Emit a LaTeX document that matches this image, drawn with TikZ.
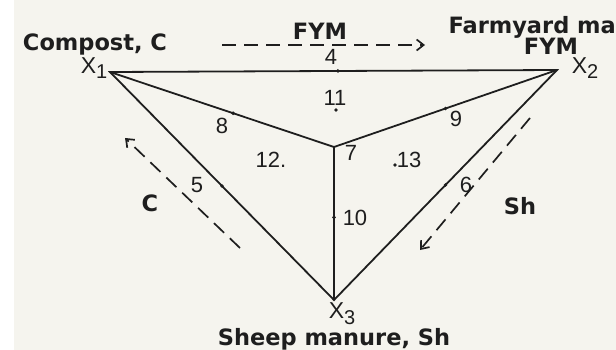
\documentclass[tikz,border=0pt]{standalone}
\usepackage{fontspec}
\setmainfont{Liberation Sans}
\newfontfamily\labfont{DejaVu Sans}
\usepackage{tikz}
\usetikzlibrary{arrows.meta,calc}
\definecolor{paper}{RGB}{245,244,238}
\definecolor{ink}{RGB}{30,30,30}
\newcommand{\vx}[1]{X\raisebox{-0.25em}{\fontsize{20}{20}\selectfont #1}}

\begin{document}
\begin{tikzpicture}[x=1pt, y=-1pt,
  edge/.style={draw=ink, line width=1.8pt},
  tick/.style={circle, fill=ink, inner sep=1.4pt},
  num/.style={font=\fontsize{22}{22}\selectfont, text=ink, inner sep=0.5pt},
  vert/.style={font=\fontsize{23}{23}\selectfont, text=ink, inner sep=0pt},
  lab/.style={font=\labfont\bfseries\fontsize{22.5}{22.5}\selectfont, text=ink, inner sep=0pt},
  flow/.style={draw=ink, line width=1.7pt, dash pattern=on 14pt off 8pt,
               -{Straight Barb[length=7pt, width=11pt]}}]
  \useasboundingbox (0,0) rectangle (616,350);
  \fill[paper] (0,0) rectangle (616,350);
  \fill[white] (0,0) rectangle (14,350);
  % vertices of the mixture triangle
  \coordinate (x1) at (110,72);
  \coordinate (x2) at (557,70);
  \coordinate (x3) at (334,300);
  \coordinate (cen) at (334,147);
  \draw[edge] (x1) -- (x2) -- (x3) -- cycle;
  \draw[edge] (x1) -- (cen) -- (x2);
  \draw[edge] (cen) -- (x3);
  % design points
  \node[tick] (p4) at ($(x1)!0.51!(x2)$) {};
  \node[tick] (p5) at ($(x1)!0.5!(x3)$) {};
  \node[tick] (p6) at ($(x2)!0.5!(x3)$) {};
  \node[tick] (p8) at ($(x1)!0.55!(cen)$) {};
  \node[tick] (p9) at ($(x2)!0.5!(cen)$) {};
  \node[tick] (p10) at ($(cen)!0.46!(x3)$) {};
  \node[tick] (p11) at (336,110) {};
  \node[tick] (p13) at (395,165) {};
  \node[num] (n4) at (331,57) {4};
  \node[num] (n11) at (335,98) {11};
  \node[num] (n8) at (222,126) {8};
  \node[num] (n9) at (456,119) {9};
  \node[num] (n7) at (351,153) {7};
  \node[num] (n12) at (271,160) {12.};
  \node[num] (n13) at (409,160) {13};
  \node[num] (n5) at (197,185) {5};
  \node[num] (n6) at (466,185) {6};
  \node[num] (n10) at (355,218) {10};
  \node[vert] (v1) at (94,68) {\vx{1}};
  \node[vert] (v2) at (585,68) {\vx{2}};
  \node[vert] (v3) at (342,314) {\vx{3}};
  % component names
  \node[lab] (compost) at (95,44) {Compost, C};
  \node[lab] (fym) at (320,31) {FYM};
  \node[lab, anchor=east] (farm) at (616,27) {Farmyard ma};
  \node[lab] (fym2) at (551,46) {FYM};
  \node[lab] (sheep) at (334,339) {Sheep manure, Sh};
  \node[lab] (cl) at (150,203) {C};
  \node[lab] (shl) at (520,206) {Sh};
  % directions of increasing share
  \coordinate (a1) at (222,45);
  \coordinate (a2) at (425,45);
  \coordinate (b1) at (240,248);
  \coordinate (b2) at (125,138);
  \coordinate (d1) at (530,118);
  \coordinate (d2) at (420,250);
  \draw[flow] (a1) -- (a2);
  \draw[flow] (b1) -- (b2);
  \draw[flow] (d1) -- (d2);
\end{tikzpicture}
\end{document}
